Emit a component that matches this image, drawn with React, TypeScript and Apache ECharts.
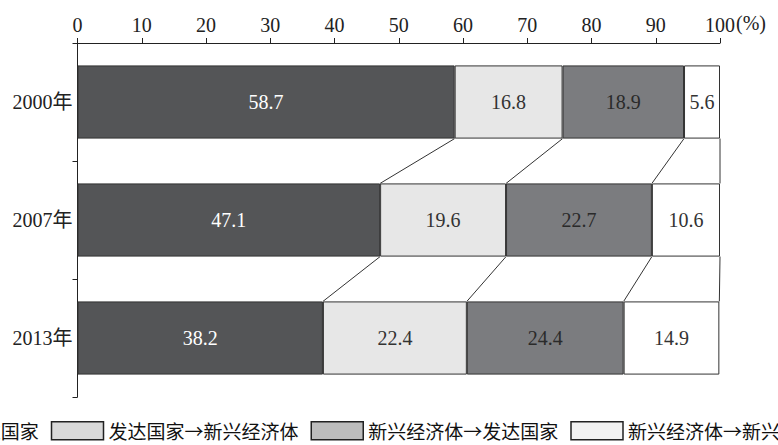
import React, { useEffect, useRef } from 'react';
import * as echarts from 'echarts';

const years = ['2000年', '2007年', '2013年'];
const seriesNames = ['发达国家→发达国家', '发达国家→新兴经济体', '新兴经济体→发达国家', '新兴经济体→新兴经济体'];
const devToDev = [58.7, 47.1, 38.2];
const devToEm = [16.8, 19.6, 22.4];
const emToDev = [18.9, 22.7, 24.4];
const emToEm = [5.6, 10.6, 14.9];
const axisUnit = '(%)';

const barColors = ['#545557', '#e7e7e7', '#7b7c7f', '#ffffff'];
const labelColors = ['#ffffff', '#333333', '#2a2a2a', '#333333'];
const legendSwatches = ['#545557', '#d9d9d9', '#bdbdbd', '#f2f2f2'];

const SERIF = "'Liberation Serif', 'Noto Sans CJK SC', serif";

export default function App() {
  const ref = useRef<HTMLDivElement>(null);
  useEffect(() => {
    document.body.style.margin = '0';
    if (!ref.current) return;
    const chart = echarts.init(ref.current, undefined, { renderer: 'svg' });
    const all = [devToDev, devToEm, emToDev, emToEm];
    const cum = years.map((_, i) => {
      let s = 0;
      return all.map((arr) => { s += arr[i]; return s; });
    });
    const connectors: number[][] = [];
    for (let i = 0; i < years.length - 1; i++) {
      for (let k = 0; k < all.length; k++) {
        connectors.push([cum[i][k], i, cum[i + 1][k], i + 1]);
      }
    }
    const BAR_RATIO = 0.62;
    const barSeries = all.map((arr, k) => ({
      name: seriesNames[k],
      type: 'bar',
      stack: 'total',
      barWidth: '62%',
      data: arr,
      itemStyle: { color: barColors[k], borderColor: '#333', borderWidth: 1 },
      label: {
        show: true,
        position: 'inside',
        formatter: (p: any) => Number(p.value).toFixed(1),
        color: labelColors[k],
        fontSize: 20,
        fontFamily: SERIF,
      },
      emphasis: { disabled: true },
      z: 2,
    }));
    chart.setOption({
      animation: false,
      grid: { left: 77.5, right: 58, top: 43, bottom: 48, containLabel: false },
      graphic: [
        {
          type: 'text',
          x: 736,
          y: 23,
          style: {
            text: axisUnit,
            fontSize: 20,
            fontFamily: SERIF,
            fill: '#222',
            align: 'left',
            verticalAlign: 'middle',
          },
        },
      ],
      xAxis: {
        type: 'value',
        position: 'top',
        min: 0,
        max: 100,
        interval: 10,
        axisLine: { show: true, lineStyle: { color: '#222', width: 1 } },
        axisTick: { show: true, length: 5, lineStyle: { color: '#222' } },
        axisLabel: { fontSize: 20, fontFamily: SERIF, color: '#222', margin: 8 },
        splitLine: { show: false },
      },
      yAxis: {
        type: 'category',
        data: years,
        inverse: true,
        axisLine: { show: true, lineStyle: { color: '#222', width: 1 } },
        axisTick: { show: true, length: 5, lineStyle: { color: '#222' } },
        axisLabel: { fontSize: 20, fontFamily: SERIF, color: '#222', margin: 5 },
        splitLine: { show: false },
      },
      legend: {
        left: -190,
        top: 421,
        width: 1200,
        padding: 0,
        itemWidth: 52,
        itemHeight: 18,
        itemGap: 12,
        selectedMode: false,
        textStyle: {
          fontSize: 19,
          fontFamily: "'Noto Sans CJK SC', sans-serif",
          color: '#111',
        },
        data: seriesNames.map((n, k) => ({
          name: n,
          icon: 'rect',
          itemStyle: { color: legendSwatches[k], borderColor: '#222', borderWidth: 1.5 },
        })),
      },
      series: [
        ...barSeries,
        {
          type: 'custom',
          name: 'connectors',
          silent: true,
          z: 3,
          encode: { x: [0, 2], y: [1, 3] },
          data: connectors,
          renderItem: (params: any, api: any) => {
            const p1 = api.coord([api.value(0), api.value(1)]);
            const p2 = api.coord([api.value(2), api.value(3)]);
            const band = api.size([0, 1])[1];
            const half = (band * BAR_RATIO) / 2;
            return {
              type: 'line',
              shape: { x1: p1[0], y1: p1[1] + half, x2: p2[0], y2: p2[1] - half },
              style: { stroke: '#333', lineWidth: 1 },
            };
          },
        },
      ],
    });
    return () => chart.dispose();
  }, []);
  return (
    <div
      ref={ref}
      style={{ position: 'absolute', left: 0, top: 0, width: 778, height: 445, background: '#fff' }}
    />
  );
}
